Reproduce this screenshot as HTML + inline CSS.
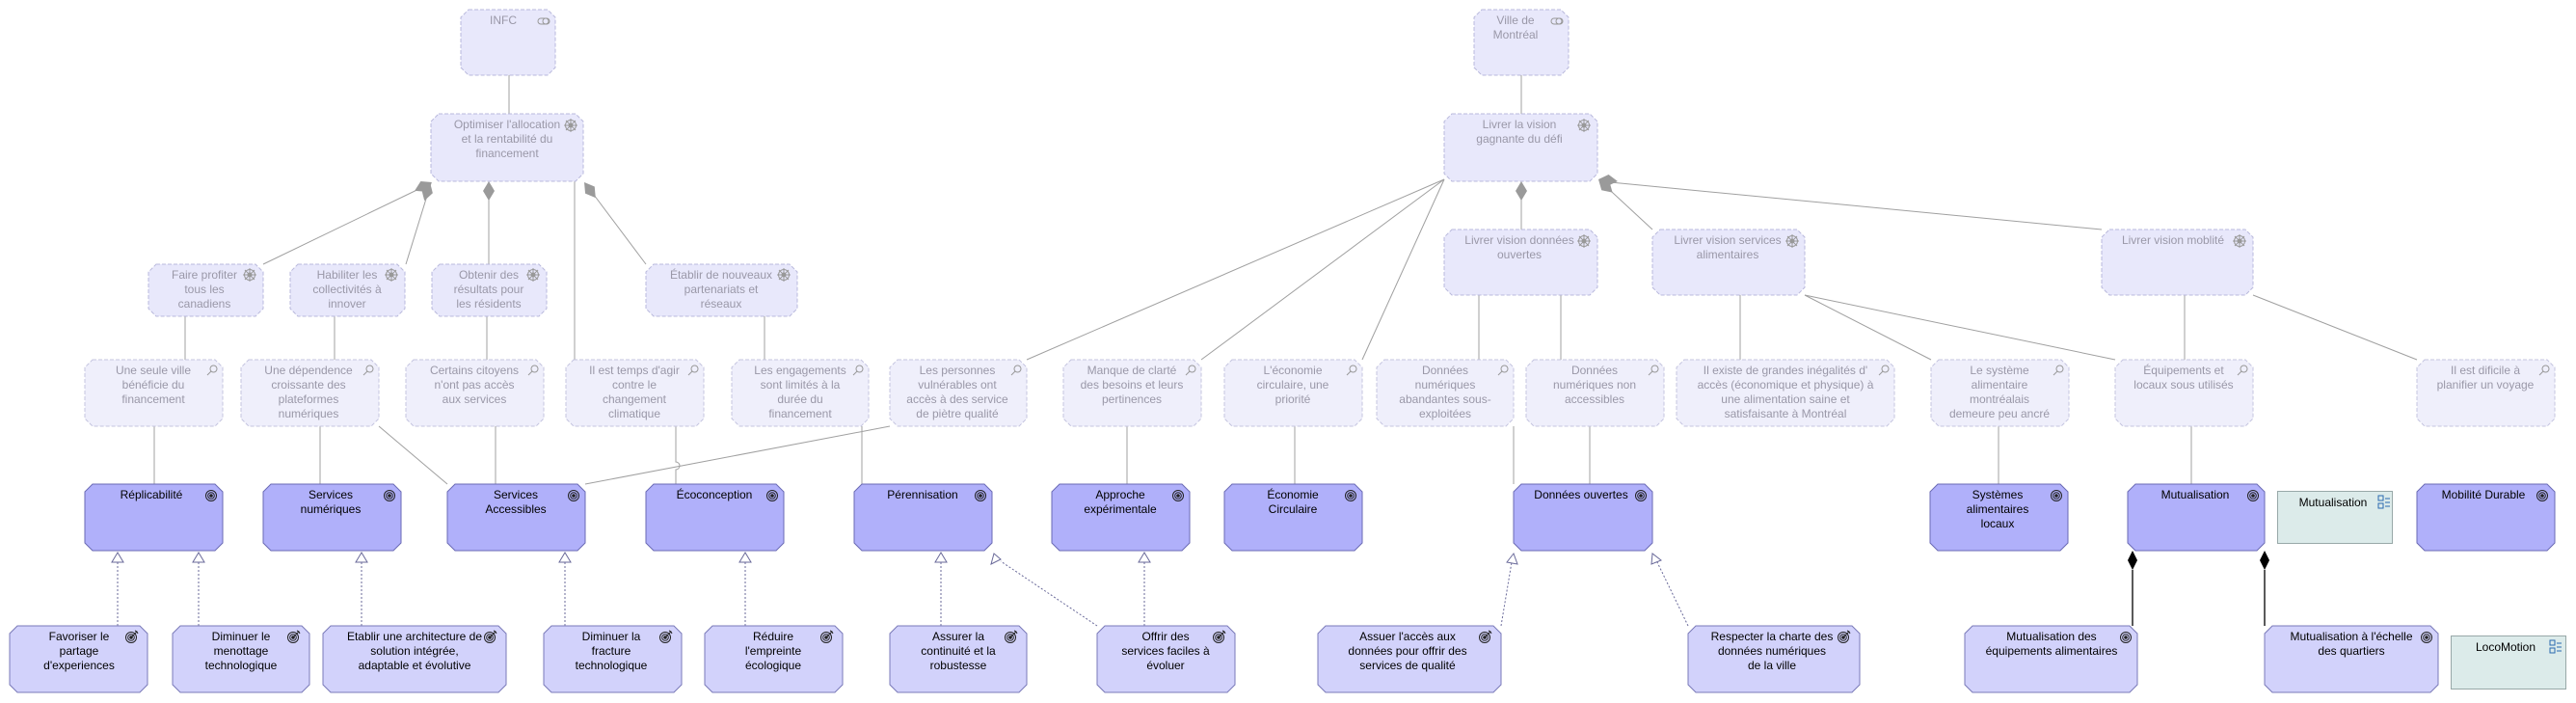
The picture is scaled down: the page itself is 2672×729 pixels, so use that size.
<!DOCTYPE html>
<html><head><meta charset="utf-8"><style>
html,body{margin:0;padding:0;background:#fff;}
svg{display:block;font-family:"Liberation Sans",sans-serif;font-size:12px;}
.f{fill:#e8e8fb;stroke:#b9b9dc;stroke-dasharray:4,2;stroke-width:1;}
.f3{fill:#efeffb;stroke:#c4c4df;stroke-dasharray:4,2;stroke-width:1;}
.g{fill:#b0b0fa;stroke:#6a6ab4;stroke-width:1;}
.o{fill:#d2d2fb;stroke:#7a7ab8;stroke-width:1;}
.d{fill:#dcebea;stroke:#98a8a8;stroke-width:1;}
.tf{fill:#9a98a8;text-anchor:middle;}
.tn{fill:#000;text-anchor:middle;}
.l{stroke:#a0a0a0;stroke-width:1;fill:none;}
.r{stroke:#6a6a9a;stroke-width:1;stroke-dasharray:2,2;fill:none;}
.tri{fill:#fff;stroke:#6a6a9a;stroke-width:1;}
.dm{fill:#9a9a9a;}
</style></head><body>
<svg width="2672" height="729" viewBox="0 0 2672 729">
<defs>
<g id="tog"><rect x="-6" y="-3" width="12" height="6" rx="3" fill="none" stroke="#999"/><circle cx="2" cy="0" r="3" fill="none" stroke="#999"/></g>
<g id="whl" stroke="#999" fill="none"><circle r="5.5"/><circle r="2" fill="#999"/><line x1="-7" y1="0" x2="7" y2="0"/><line x1="0" y1="-7" x2="0" y2="7"/><line x1="-5" y1="-5" x2="5" y2="5"/><line x1="-5" y1="5" x2="5" y2="-5"/></g>
<g id="mag" stroke="#999" fill="none"><circle cx="1.5" cy="-1.5" r="3.5"/><line x1="-1" y1="1" x2="-5" y2="5"/></g>
<g id="tgt" stroke="#222" fill="none"><circle r="5.5"/><circle r="3.3"/><circle r="1.3" fill="#222"/></g>
<g id="tga" stroke="#222" fill="none"><circle r="5.5"/><circle r="3.3"/><circle r="1.3" fill="#222"/><line x1="0" y1="0" x2="6" y2="-6"/><path d="M4,-7 L6,-6 L7,-4"/></g>
<g id="req" stroke="#2a6ab0" fill="none"><rect x="-5" y="-7" width="5" height="5"/><rect x="-5" y="1" width="5" height="5"/><line x1="2" y1="-4" x2="7" y2="-4"/><line x1="2" y1="0" x2="7" y2="0"/><line x1="2" y1="4" x2="7" y2="4"/></g>
</defs>

<!-- connectors faded -->
<g class="l">
<line x1="528" y1="78" x2="528" y2="118"/>
<line x1="447" y1="190" x2="273" y2="274"/>
<line x1="447" y1="190" x2="421" y2="274"/>
<line x1="507" y1="190" x2="507" y2="274"/>
<line x1="596" y1="188" x2="596" y2="373"/>
<line x1="607" y1="190" x2="670" y2="274"/>
<line x1="192" y1="328" x2="192" y2="373"/>
<line x1="347" y1="328" x2="347" y2="373"/>
<line x1="505" y1="328" x2="505" y2="373"/>
<line x1="793" y1="328" x2="793" y2="373"/>
<line x1="160" y1="442" x2="160" y2="502"/>
<line x1="332" y1="442" x2="332" y2="502"/>
<line x1="393" y1="442" x2="464" y2="502"/>
<line x1="514" y1="442" x2="514" y2="502"/>
<path d="M701,442 V479 a4,4 0 0 1 0,8 V502"/>
<line x1="923" y1="442" x2="607" y2="502"/>
<line x1="894" y1="442" x2="894" y2="502"/>
<line x1="1578" y1="78" x2="1578" y2="118"/>
<line x1="1498" y1="186" x2="1065" y2="373"/>
<line x1="1498" y1="186" x2="1246" y2="373"/>
<line x1="1498" y1="186" x2="1413" y2="373"/>
<line x1="1578" y1="190" x2="1578" y2="238"/>
<line x1="1660" y1="188" x2="1714" y2="238"/>
<line x1="1660" y1="188" x2="2180" y2="238"/>
<line x1="1534" y1="306" x2="1534" y2="373"/>
<line x1="1619" y1="306" x2="1619" y2="373"/>
<line x1="1570" y1="442" x2="1570" y2="502"/>
<line x1="1649" y1="442" x2="1649" y2="502"/>
<line x1="1169" y1="442" x2="1169" y2="502"/>
<line x1="1343" y1="442" x2="1343" y2="502"/>
<line x1="1805" y1="306" x2="1805" y2="373"/>
<line x1="1872" y1="306" x2="2003" y2="373"/>
<line x1="1872" y1="306" x2="2194" y2="373"/>
<line x1="2266" y1="306" x2="2266" y2="373"/>
<line x1="2337" y1="306" x2="2507" y2="373"/>
<line x1="2073" y1="442" x2="2073" y2="502"/>
<line x1="2273" y1="442" x2="2273" y2="502"/>
</g>
<!-- grey diamonds -->
<polygon class="dm" points="0,0 10,-6 20,0 10,6" transform="translate(448,189) rotate(153.7)"/>
<polygon class="dm" points="0,0 10,-6 20,0 10,6" transform="translate(446,189) rotate(106.8)"/>
<polygon class="dm" points="0,0 10,-6 20,0 10,6" transform="translate(507,188) rotate(90)"/>
<polygon class="dm" points="0,0 10,-6 20,0 10,6" transform="translate(606,189) rotate(53.8)"/>
<polygon class="dm" points="0,0 10,-6 20,0 10,6" transform="translate(1578,188) rotate(90)"/>
<polygon class="dm" points="0,0 10,-6 20,0 10,6" transform="translate(1658,186) rotate(43)"/>
<polygon class="dm" points="0,0 10,-6 20,0 10,6" transform="translate(1658,186) rotate(5.6)"/>

<!-- realizations -->
<g class="r">
<line x1="122" y1="649" x2="122" y2="583"/>
<line x1="206" y1="649" x2="206" y2="583"/>
<line x1="375" y1="649" x2="375" y2="583"/>
<line x1="586" y1="649" x2="586" y2="583"/>
<line x1="773" y1="649" x2="773" y2="583"/>
<line x1="976" y1="649" x2="976" y2="583"/>
<line x1="1138" y1="649" x2="1038" y2="582"/>
<line x1="1187" y1="649" x2="1187" y2="583"/>
<line x1="1557" y1="649" x2="1568" y2="583"/>
<line x1="1751" y1="649" x2="1719" y2="583"/>
</g>
<g class="tri">
<polygon points="122,573 116,583 128,583"/>
<polygon points="206,573 200,583 212,583"/>
<polygon points="375,573 369,583 381,583"/>
<polygon points="586,573 580,583 592,583"/>
<polygon points="773,573 767,583 779,583"/>
<polygon points="976,573 970,583 982,583"/>
<polygon points="1031,574 1028,585 1038,580" />
<polygon points="1187,573 1181,583 1193,583"/>
<polygon points="1570,574 1563,583 1574,585"/>
<polygon points="1714,574 1713,585 1723,581"/>
</g>
<!-- black compositions -->
<line x1="2212" y1="591" x2="2212" y2="649" stroke="#000" stroke-width="1.3"/>
<line x1="2349" y1="591" x2="2349" y2="649" stroke="#000" stroke-width="1.3"/>
<polygon points="2212,571 2217,581 2212,591 2207,581" fill="#000"/>
<polygon points="2349,571 2354,581 2349,591 2344,581" fill="#000"/>

<!-- Row 1 -->
<path class="f" d="M486,10 h82 l8,8 v52 l-8,8 h-82 l-8,-8 v-52 z"/>
<text class="tf" x="522" y="25">INFC</text><use href="#tog" x="564" y="22"/>
<path class="f" d="M1537,10 h82 l8,8 v52 l-8,8 h-82 l-8,-8 v-52 z"/>
<text class="tf" x="1572" y="25">Ville de<tspan x="1572" dy="15">Montréal</tspan></text><use href="#tog" x="1615" y="22"/>

<!-- Row 2 -->
<path class="f" d="M455,118 h142 l8,8 v54 l-8,8 h-142 l-8,-8 v-54 z"/>
<text class="tf" x="526" y="133">Optimiser l'allocation<tspan x="526" dy="15">et la rentabilité du</tspan><tspan x="526" dy="15">financement</tspan></text><use href="#whl" x="592" y="130"/>
<path class="f" d="M1506,118 h143 l8,8 v54 l-8,8 h-143 l-8,-8 v-54 z"/>
<text class="tf" x="1576" y="133">Livrer la vision<tspan x="1576" dy="15">gagnante du défi</tspan></text><use href="#whl" x="1643" y="130"/>

<path class="f" d="M162,274 h103 l8,8 v38 l-8,8 h-103 l-8,-8 v-38 z"/>
<text class="tf" x="212" y="289">Faire profiter<tspan x="212" dy="15">tous les</tspan><tspan x="212" dy="15">canadiens</tspan></text><use href="#whl" x="259" y="285"/>
<path class="f" d="M309,274 h103 l8,8 v38 l-8,8 h-103 l-8,-8 v-38 z"/>
<text class="tf" x="360" y="289">Habiliter les<tspan x="360" dy="15">collectivités à</tspan><tspan x="360" dy="15">innover</tspan></text><use href="#whl" x="406" y="285"/>
<path class="f" d="M456,274 h103 l8,8 v38 l-8,8 h-103 l-8,-8 v-38 z"/>
<text class="tf" x="507" y="289">Obtenir des<tspan x="507" dy="15">résultats pour</tspan><tspan x="507" dy="15">les résidents</tspan></text><use href="#whl" x="553" y="285"/>
<path class="f" d="M678,274 h141 l8,8 v38 l-8,8 h-141 l-8,-8 v-38 z"/>
<text class="tf" x="748" y="289">Établir de nouveaux<tspan x="748" dy="15">partenariats et</tspan><tspan x="748" dy="15">réseaux</tspan></text><use href="#whl" x="813" y="285"/>

<path class="f" d="M1506,238 h143 l8,8 v52 l-8,8 h-143 l-8,-8 v-52 z"/>
<text class="tf" x="1576" y="253">Livrer vision données<tspan x="1576" dy="15">ouvertes</tspan></text><use href="#whl" x="1643" y="250"/>
<path class="f" d="M1722,238 h142 l8,8 v52 l-8,8 h-142 l-8,-8 v-52 z"/>
<text class="tf" x="1792" y="253">Livrer vision services<tspan x="1792" dy="15">alimentaires</tspan></text><use href="#whl" x="1859" y="250"/>
<path class="f" d="M2188,238 h141 l8,8 v52 l-8,8 h-141 l-8,-8 v-52 z"/>
<text class="tf" x="2254" y="253">Livrer vision moblité</text><use href="#whl" x="2323" y="250"/>

<!-- Row 3 -->
<g>
<path class="f3" d="M96,373 h127 l8,8 v53 l-8,8 h-127 l-8,-8 v-53 z"/>
<text class="tf" x="159" y="388">Une seule ville<tspan x="159" dy="15">bénéficie du</tspan><tspan x="159" dy="15">financement</tspan></text><use href="#mag" x="220" y="384"/>
<path class="f3" d="M258,373 h127 l8,8 v53 l-8,8 h-127 l-8,-8 v-53 z"/>
<text class="tf" x="320" y="388">Une dépendence<tspan x="320" dy="15">croissante des</tspan><tspan x="320" dy="15">plateformes</tspan><tspan x="320" dy="15">numériques</tspan></text><use href="#mag" x="382" y="384"/>
<path class="f3" d="M429,373 h127 l8,8 v53 l-8,8 h-127 l-8,-8 v-53 z"/>
<text class="tf" x="492" y="388">Certains citoyens<tspan x="492" dy="15">n'ont pas accès</tspan><tspan x="492" dy="15">aux services</tspan></text><use href="#mag" x="553" y="384"/>
<path class="f3" d="M595,373 h127 l8,8 v53 l-8,8 h-127 l-8,-8 v-53 z"/>
<text class="tf" x="658" y="388">Il est temps d'agir<tspan x="658" dy="15">contre le</tspan><tspan x="658" dy="15">changement</tspan><tspan x="658" dy="15">climatique</tspan></text><use href="#mag" x="719" y="384"/>
<path class="f3" d="M767,373 h126 l8,8 v53 l-8,8 h-126 l-8,-8 v-53 z"/>
<text class="tf" x="830" y="388">Les engagements<tspan x="830" dy="15">sont limités à la</tspan><tspan x="830" dy="15">durée du</tspan><tspan x="830" dy="15">financement</tspan></text><use href="#mag" x="890" y="384"/>
<path class="f3" d="M931,373 h126 l8,8 v53 l-8,8 h-126 l-8,-8 v-53 z"/>
<text class="tf" x="993" y="388">Les personnes<tspan x="993" dy="15">vulnérables ont</tspan><tspan x="993" dy="15">accès à des service</tspan><tspan x="993" dy="15">de piètre qualité</tspan></text><use href="#mag" x="1054" y="384"/>
<path class="f3" d="M1111,373 h127 l8,8 v53 l-8,8 h-127 l-8,-8 v-53 z"/>
<text class="tf" x="1174" y="388">Manque de clarté<tspan x="1174" dy="15">des besoins et leurs</tspan><tspan x="1174" dy="15">pertinences</tspan></text><use href="#mag" x="1235" y="384"/>
<path class="f3" d="M1278,373 h127 l8,8 v53 l-8,8 h-127 l-8,-8 v-53 z"/>
<text class="tf" x="1341" y="388">L'économie<tspan x="1341" dy="15">circulaire, une</tspan><tspan x="1341" dy="15">priorité</tspan></text><use href="#mag" x="1402" y="384"/>
<path class="f3" d="M1436,373 h126 l8,8 v53 l-8,8 h-126 l-8,-8 v-53 z"/>
<text class="tf" x="1499" y="388">Données<tspan x="1499" dy="15">numériques</tspan><tspan x="1499" dy="15">abandantes sous-</tspan><tspan x="1499" dy="15">exploitées</tspan></text><use href="#mag" x="1559" y="384"/>
<path class="f3" d="M1591,373 h127 l8,8 v53 l-8,8 h-127 l-8,-8 v-53 z"/>
<text class="tf" x="1654" y="388">Données<tspan x="1654" dy="15">numériques non</tspan><tspan x="1654" dy="15">accessibles</tspan></text><use href="#mag" x="1715" y="384"/>
<path class="f3" d="M1747,373 h210 l8,8 v53 l-8,8 h-210 l-8,-8 v-53 z"/>
<text class="tf" x="1852" y="388">Il existe de grandes inégalités d'<tspan x="1852" dy="15">accès (économique et physique) à</tspan><tspan x="1852" dy="15">une alimentation saine et</tspan><tspan x="1852" dy="15">satisfaisante à Montréal</tspan></text><use href="#mag" x="1954" y="384"/>
<path class="f3" d="M2011,373 h127 l8,8 v53 l-8,8 h-127 l-8,-8 v-53 z"/>
<text class="tf" x="2074" y="388">Le système<tspan x="2074" dy="15">alimentaire</tspan><tspan x="2074" dy="15">montréalais</tspan><tspan x="2074" dy="15">demeure peu ancré</tspan></text><use href="#mag" x="2135" y="384"/>
<path class="f3" d="M2202,373 h127 l8,8 v53 l-8,8 h-127 l-8,-8 v-53 z"/>
<text class="tf" x="2265" y="388">Équipements et<tspan x="2265" dy="15">locaux sous utilisés</tspan></text><use href="#mag" x="2326" y="384"/>
<path class="f3" d="M2515,373 h127 l8,8 v53 l-8,8 h-127 l-8,-8 v-53 z"/>
<text class="tf" x="2578" y="388">Il est dificile à<tspan x="2578" dy="15">planifier un voyage</tspan></text><use href="#mag" x="2639" y="384"/>
</g>

<!-- Row 4 -->
<g>
<path class="g" d="M96,502 h127 l8,8 v53 l-8,8 h-127 l-8,-8 v-53 z"/>
<text class="tn" x="157" y="517">Réplicabilité</text><use href="#tgt" x="219" y="514"/>
<path class="g" d="M281,502 h127 l8,8 v53 l-8,8 h-127 l-8,-8 v-53 z"/>
<text class="tn" x="343" y="517">Services<tspan x="343" dy="15">numériques</tspan></text><use href="#tgt" x="404" y="514"/>
<path class="g" d="M472,502 h127 l8,8 v53 l-8,8 h-127 l-8,-8 v-53 z"/>
<text class="tn" x="535" y="517">Services<tspan x="535" dy="15">Accessibles</tspan></text><use href="#tgt" x="595" y="514"/>
<path class="g" d="M678,502 h127 l8,8 v53 l-8,8 h-127 l-8,-8 v-53 z"/>
<text class="tn" x="741" y="517">Écoconception</text><use href="#tgt" x="801" y="514"/>
<path class="g" d="M894,502 h127 l8,8 v53 l-8,8 h-127 l-8,-8 v-53 z"/>
<text class="tn" x="957" y="517">Pérennisation</text><use href="#tgt" x="1017" y="514"/>
<path class="g" d="M1099,502 h127 l8,8 v53 l-8,8 h-127 l-8,-8 v-53 z"/>
<text class="tn" x="1162" y="517">Approche<tspan x="1162" dy="15">expérimentale</tspan></text><use href="#tgt" x="1222" y="514"/>
<path class="g" d="M1278,502 h127 l8,8 v53 l-8,8 h-127 l-8,-8 v-53 z"/>
<text class="tn" x="1341" y="517">Économie<tspan x="1341" dy="15">Circulaire</tspan></text><use href="#tgt" x="1401" y="514"/>
<path class="g" d="M1578,502 h128 l8,8 v53 l-8,8 h-128 l-8,-8 v-53 z"/>
<text class="tn" x="1640" y="517">Données ouvertes</text><use href="#tgt" x="1702" y="514"/>
<path class="g" d="M2010,502 h127 l8,8 v53 l-8,8 h-127 l-8,-8 v-53 z"/>
<text class="tn" x="2072" y="517">Systèmes<tspan x="2072" dy="15">alimentaires</tspan><tspan x="2072" dy="15">locaux</tspan></text><use href="#tgt" x="2133" y="514"/>
<path class="g" d="M2215,502 h126 l8,8 v53 l-8,8 h-126 l-8,-8 v-53 z"/>
<text class="tn" x="2277" y="517">Mutualisation</text><use href="#tgt" x="2337" y="514"/>
<rect class="d" x="2362.5" y="509.5" width="119" height="54"/>
<text class="tn" x="2420" y="525">Mutualisation</text><use href="#req" x="2472" y="521"/>
<path class="g" d="M2515,502 h127 l8,8 v53 l-8,8 h-127 l-8,-8 v-53 z"/>
<text class="tn" x="2576" y="517">Mobilité Durable</text><use href="#tgt" x="2637" y="514"/>
</g>

<!-- Row 5 -->
<g>
<path class="o" d="M18,649 h127 l8,8 v53 l-8,8 h-127 l-8,-8 v-53 z"/>
<text class="tn" x="82" y="664">Favoriser le<tspan x="82" dy="15">partage</tspan><tspan x="82" dy="15">d'experiences</tspan></text><use href="#tga" x="136" y="661"/>
<path class="o" d="M187,649 h126 l8,8 v53 l-8,8 h-126 l-8,-8 v-53 z"/>
<text class="tn" x="250" y="664">Diminuer le<tspan x="250" dy="15">menottage</tspan><tspan x="250" dy="15">technologique</tspan></text><use href="#tga" x="304" y="661"/>
<path class="o" d="M343,649 h174 l8,8 v53 l-8,8 h-174 l-8,-8 v-53 z"/>
<text class="tn" x="430" y="664">Etablir une architecture de<tspan x="430" dy="15">solution intégrée,</tspan><tspan x="430" dy="15">adaptable et évolutive</tspan></text><use href="#tga" x="508" y="661"/>
<path class="o" d="M572,649 h127 l8,8 v53 l-8,8 h-127 l-8,-8 v-53 z"/>
<text class="tn" x="634" y="664">Diminuer la<tspan x="634" dy="15">fracture</tspan><tspan x="634" dy="15">technologique</tspan></text><use href="#tga" x="690" y="661"/>
<path class="o" d="M739,649 h127 l8,8 v53 l-8,8 h-127 l-8,-8 v-53 z"/>
<text class="tn" x="802" y="664">Réduire<tspan x="802" dy="15">l'empreinte</tspan><tspan x="802" dy="15">écologique</tspan></text><use href="#tga" x="857" y="661"/>
<path class="o" d="M931,649 h126 l8,8 v53 l-8,8 h-126 l-8,-8 v-53 z"/>
<text class="tn" x="994" y="664">Assurer la<tspan x="994" dy="15">continuité et la</tspan><tspan x="994" dy="15">robustesse</tspan></text><use href="#tga" x="1048" y="661"/>
<path class="o" d="M1146,649 h127 l8,8 v53 l-8,8 h-127 l-8,-8 v-53 z"/>
<text class="tn" x="1209" y="664">Offrir des<tspan x="1209" dy="15">services faciles à</tspan><tspan x="1209" dy="15">évoluer</tspan></text><use href="#tga" x="1264" y="661"/>
<path class="o" d="M1375,649 h174 l8,8 v53 l-8,8 h-174 l-8,-8 v-53 z"/>
<text class="tn" x="1460" y="664">Assuer l'accès aux<tspan x="1460" dy="15">données pour offrir des</tspan><tspan x="1460" dy="15">services de qualité</tspan></text><use href="#tga" x="1540" y="661"/>
<path class="o" d="M1759,649 h162 l8,8 v53 l-8,8 h-162 l-8,-8 v-53 z"/>
<text class="tn" x="1838" y="664">Respecter la charte des<tspan x="1838" dy="15">données numériques</tspan><tspan x="1838" dy="15">de la ville</tspan></text><use href="#tga" x="1912" y="661"/>
<path class="o" d="M2046,649 h163 l8,8 v53 l-8,8 h-163 l-8,-8 v-53 z"/>
<text class="tn" x="2128" y="664">Mutualisation des<tspan x="2128" dy="15">équipements alimentaires</tspan></text><use href="#tgt" x="2205" y="661"/>
<path class="o" d="M2357,649 h164 l8,8 v53 l-8,8 h-164 l-8,-8 v-53 z"/>
<text class="tn" x="2439" y="664">Mutualisation à l'échelle<tspan x="2439" dy="15">des quartiers</tspan></text><use href="#tgt" x="2517" y="661"/>
<rect class="d" x="2542.5" y="659.5" width="119" height="55"/>
<text class="tn" x="2599" y="675">LocoMotion</text><use href="#req" x="2650" y="671"/>
</g>
</svg>
</body></html>
